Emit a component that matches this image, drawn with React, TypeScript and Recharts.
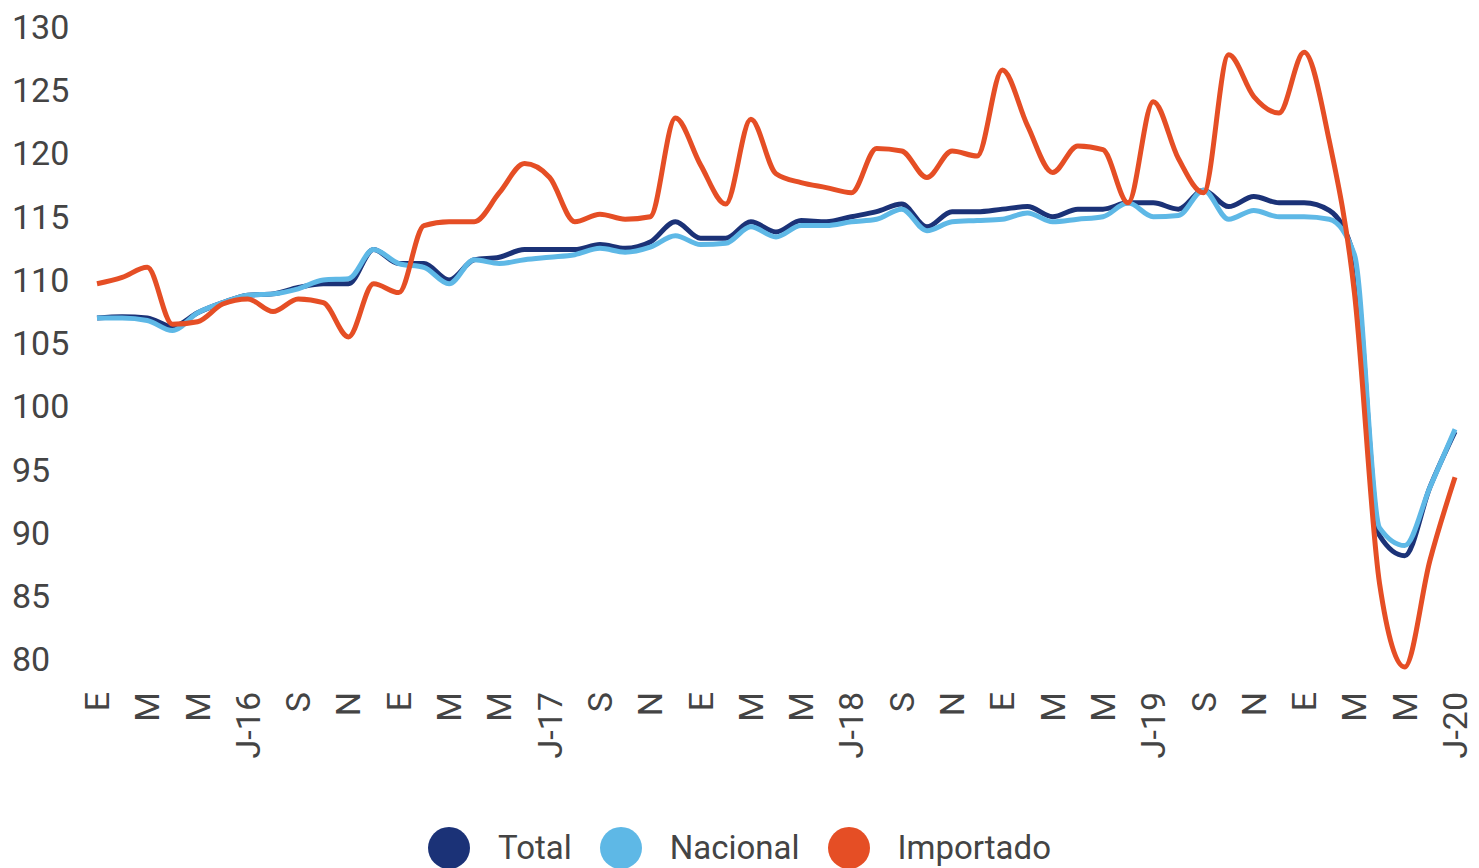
import React from 'react';
import { LineChart, Line, XAxis, YAxis, Legend } from 'recharts';

const months = [
  'E-16','F-16','M-16','A-16','M-16','J-16','J-16','A-16','S-16','O-16','N-16','D-16',
  'E-17','F-17','M-17','A-17','M-17','J-17','J-17','A-17','S-17','O-17','N-17','D-17',
  'E-18','F-18','M-18','A-18','M-18','J-18','J-18','A-18','S-18','O-18','N-18','D-18',
  'E-19','F-19','M-19','A-19','M-19','J-19','J-19','A-19','S-19','O-19','N-19','D-19',
  'E-20','F-20','M-20','A-20','M-20','J-20','J-20',
];

const tickLabels = [
  'E','M','M','J-16','S','N',
  'E','M','M','J-17','S','N',
  'E','M','M','J-18','S','N',
  'E','M','M','J-19','S','N',
  'E','M','M','J-20',
];

const total = [
  107.0, 107.1, 107.0, 106.3, 107.4, 108.2, 108.8, 108.9, 109.4, 109.7, 109.7, 112.4,
  111.3, 111.3, 110.0, 111.6, 111.8, 112.4, 112.4, 112.4, 112.8, 112.5, 113.0, 114.6,
  113.3, 113.3, 114.6, 113.8, 114.7, 114.6, 115.0, 115.4, 116.0, 114.2, 115.4, 115.4,
  115.6, 115.8, 115.0, 115.6, 115.6, 116.1, 116.1, 115.6, 117.1, 115.8, 116.6, 116.1,
  116.1, 115.5, 111.7, 89.8, 88.2, 93.6, 98.0,
];

const nacional = [
  107.0, 107.0, 106.8, 106.0, 107.4, 108.2, 108.8, 108.9, 109.3, 110.0, 110.1, 112.4,
  111.3, 111.0, 109.7, 111.6, 111.3, 111.6, 111.8, 112.0, 112.5, 112.2, 112.6, 113.5,
  112.8, 112.9, 114.2, 113.4, 114.3, 114.3, 114.6, 114.8, 115.6, 113.9, 114.6, 114.7,
  114.8, 115.3, 114.6, 114.8, 115.0, 116.1, 115.0, 115.1, 117.1, 114.8, 115.5, 115.0,
  115.0, 114.8, 112.0, 90.4, 89.0, 93.6, 98.2,
];

const importado = [
  109.7, 110.2, 111.0, 106.5, 106.7, 108.1, 108.5, 107.5, 108.5, 108.2, 105.5, 109.7,
  109.0, 114.3, 114.6, 114.6, 116.9, 119.2, 118.1, 114.6, 115.2, 114.8, 115.0, 122.8,
  119.1, 116.0, 122.7, 118.4, 117.7, 117.3, 116.9, 120.4, 120.2, 118.1, 120.2, 119.8,
  126.6, 122.2, 118.5, 120.6, 120.3, 116.1, 124.1, 119.6, 116.9, 127.8, 124.5, 123.2,
  128.0, 121.0, 109.0, 86.0, 79.4, 87.8, 94.4,
];

const yTicks = [80, 85, 90, 95, 100, 105, 110, 115, 120, 125, 130];

const seriesInfo = [
  { key: 'total', name: 'Total', color: '#1b3277' },
  { key: 'nacional', name: 'Nacional', color: '#5eb8e6' },
  { key: 'importado', name: 'Importado', color: '#e54e25' },
];

const data = months.map((m, i) => ({
  idx: i,
  m,
  total: total[i],
  nacional: nacional[i],
  importado: importado[i],
}));

const FONT = 'Roboto, "Noto Sans", sans-serif';
const TEXT_COLOR = '#444444';

const XTick = (props: any) => {
  const { x, payload } = props;
  const y = props.y + 19;
  const label = payload.index % 2 === 0 ? tickLabels[payload.index / 2] : '';
  return (
    <text
      x={x}
      y={y}
      transform={`rotate(-90, ${x}, ${y})`}
      textAnchor="end"
      dominantBaseline="central"
      fill={TEXT_COLOR}
      fontSize={34}
      fontFamily={FONT}
    >
      {label}
    </text>
  );
};

const YTick = (props: any) => {
  const { y, payload } = props;
  return (
    <text
      x={12}
      y={y}
      textAnchor="start"
      dominantBaseline="central"
      fill={TEXT_COLOR}
      fontSize={34}
      fontFamily={FONT}
    >
      {payload.value}
    </text>
  );
};

const LegendContent = () => (
  <div
    style={{
      display: 'flex',
      justifyContent: 'center',
      alignItems: 'center',
      height: 40,
      width: 1479,
      fontFamily: FONT,
      fontSize: 33,
      color: TEXT_COLOR,
    }}
  >
    {seriesInfo.map((s) => (
      <div key={s.key} style={{ display: 'flex', alignItems: 'center', margin: '0 14px' }}>
        <div
          style={{
            width: 42,
            height: 42,
            borderRadius: '50%',
            background: s.color,
            marginRight: 28,
            flexShrink: 0,
          }}
        />
        <span style={{ lineHeight: '40px' }}>{s.name}</span>
      </div>
    ))}
  </div>
);

export default function App() {
  return (
    <div style={{ width: 1479, height: 868, background: '#ffffff', position: 'relative' }}>
      <style>{'body{margin:0;background:#fff;}'}</style>
      <LineChart
        width={1479}
        height={868}
        data={data}
        margin={{ top: 27, right: 24, bottom: 0, left: 0 }}
      >
        <XAxis
          dataKey="idx"
          type="category"
          axisLine={false}
          tickLine={false}
          interval={0}
          height={161}
          tick={<XTick />}
          tickMargin={0}
          padding={{ left: 0, right: 0 }}
        />
        <YAxis
          domain={[80, 130]}
          ticks={yTicks}
          axisLine={false}
          tickLine={false}
          width={97}
          tick={<YTick />}
          interval={0}
        />
        <Legend
          verticalAlign="bottom"
          wrapperStyle={{ left: 0, width: 1479 }}
          content={<LegendContent />}
        />
        {seriesInfo.map((s) => (
          <Line
            key={s.key}
            type="monotone"
            dataKey={s.key}
            name={s.name}
            stroke={s.color}
            strokeWidth={5}
            dot={false}
            activeDot={false}
            isAnimationActive={false}
          />
        ))}
      </LineChart>
    </div>
  );
}
